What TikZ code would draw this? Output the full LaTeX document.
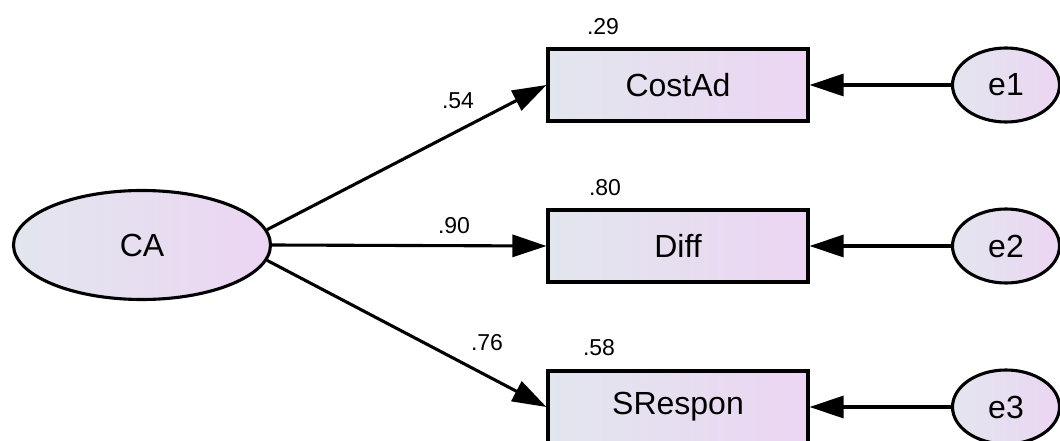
\documentclass[tikz,border=0pt]{standalone}
\usepackage{fontspec}
\setmainfont{Liberation Sans}
\usetikzlibrary{arrows.meta,shapes.geometric}
\definecolor{gl}{HTML}{E2E6EE}
\definecolor{gr}{HTML}{ECD5F3}
\begin{document}
\begin{tikzpicture}[x=1pt,y=-1pt,
  var/.style={draw=black,line width=3.1pt,left color=gl,right color=gr,inner sep=0pt,
    font=\fontsize{32}{36}\selectfont},
  obs/.style={var,rectangle,minimum width=260pt,minimum height=72pt},
  lat/.style={var,ellipse,minimum width=257pt,minimum height=109pt},
  err/.style={var,ellipse,minimum width=107pt,minimum height=74pt},
  lbl/.style={font=\fontsize{23}{26}\selectfont,inner sep=0pt},
  path/.style={line width=3.1pt,-{Triangle[length=34pt,width=22pt]}}]
\useasboundingbox (0,0) rectangle (1060,441);
\node[lat] (CA) at (142,245) {CA};
\node[obs] (CostAd) at (678,85) {CostAd};
\node[obs] (Diff) at (678,246) {Diff};
\node[obs] (SRespon) at (678,407) {SRespon};
\node[err] (e1) at (1006,85) {e1};
\node[err] (e2) at (1006,246) {e2};
\node[err] (e3) at (1006,407) {e3};
\draw[path] (CA.7) -- (CostAd.west);
\draw[path] (CA.east) -- (Diff.west);
\draw[path] (CA.-7) -- (SRespon.west);
\draw[path] (e1) -- (CostAd);
\draw[path] (e2) -- (Diff);
\draw[path] (e3) -- (SRespon);
\node[lbl] (r1) at (603,27) {.29};
\node[lbl] (r2) at (605,188) {.80};
\node[lbl] (r3) at (599,348) {.58};
\node[lbl] (w1) at (458,101) {.54};
\node[lbl] (w2) at (454,226) {.90};
\node[lbl] (w3) at (487,343) {.76};
\end{tikzpicture}
\end{document}
